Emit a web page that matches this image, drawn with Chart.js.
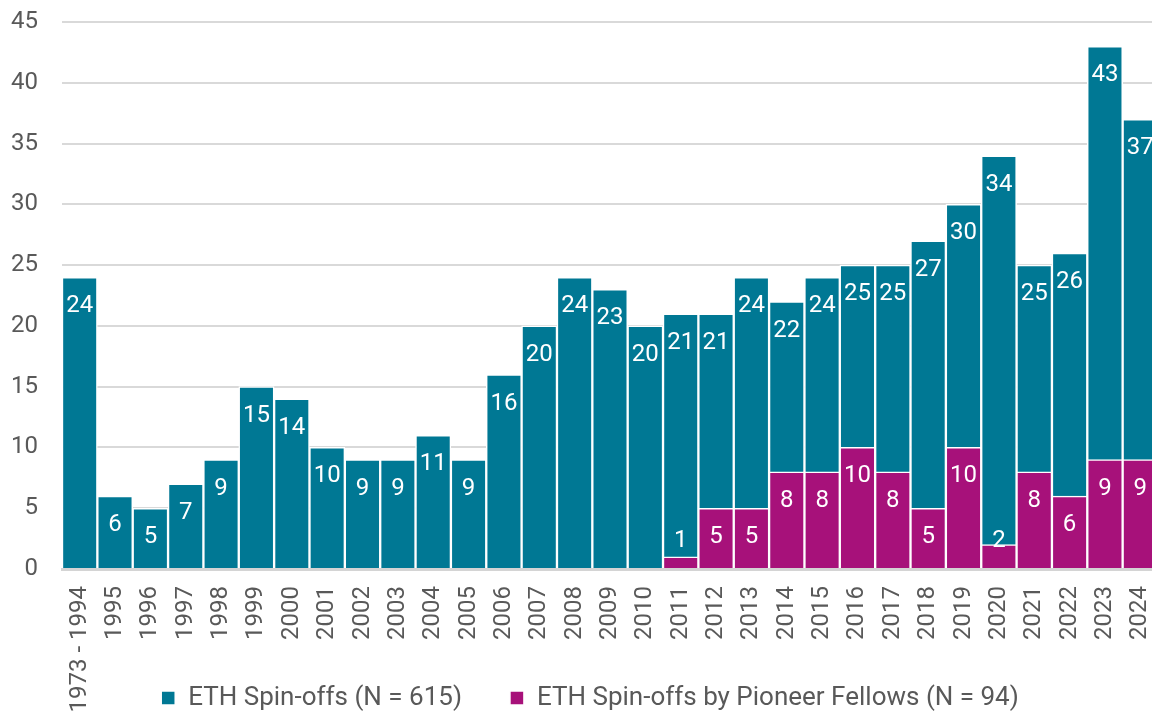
<!DOCTYPE html>
<html><head><meta charset="utf-8">
<script src="https://cdn.jsdelivr.net/npm/chart.js@4.4.1/dist/chart.umd.min.js"></script>
<style>html,body{margin:0;padding:0;background:#fff;overflow:hidden}</style>
</head><body>
<canvas id="c" width="1158" height="720"></canvas>
<script>
const categories = ['1973 - 1994','1995','1996','1997','1998','1999','2000','2001','2002','2003','2004','2005','2006','2007','2008','2009','2010','2011','2012','2013','2014','2015','2016','2017','2018','2019','2020','2021','2022','2023','2024'];
const ethSpinoffs = [24,6,5,7,9,15,14,10,9,9,11,9,16,20,24,23,20,21,21,24,22,24,25,25,27,30,34,25,26,43,37];
const pioneerSpinoffs = [null,null,null,null,null,null,null,null,null,null,null,null,null,null,null,null,null,1,5,5,8,8,10,8,5,10,2,8,6,9,9];
const seriesNames = ['ETH Spin-offs (N = 615)','ETH Spin-offs by Pioneer Fellows (N = 94)'];
const yMin = 0, yMax = 45, yStep = 5;

const FONT = 'Roboto';
const GREY = '#595959';
const LEG_PAD = 48;
const LEG_H = LEG_PAD + 35;

const barLabels = {
  id: 'barLabels',
  beforeDraw(chart) {
    Object.values(chart.scales).forEach(s => { s._computeLabelArea = () => undefined; });
  },
  afterDatasetsDraw(chart) {
    const ctx = chart.ctx;
    ctx.save();
    ctx.font = '24px ' + FONT;
    ctx.fillStyle = '#ffffff';
    ctx.textAlign = 'center';
    ctx.textBaseline = 'alphabetic';
    chart.data.datasets.forEach((ds, di) => {
      const meta = chart.getDatasetMeta(di);
      meta.data.forEach((el, i) => {
        const v = ds.data[i];
        if (v == null) return;
        const p = el.getProps(['x','y','base'], true);
        const by = Math.min(p.y + 35, p.base - 21);
        ctx.fillText(String(v), p.x, by);
      });
    });
    ctx.restore();
  }
};

const legendFix = {
  id: 'legendFix',
  afterInit(chart) {
    const lg = chart.legend;
    if (!lg) return;
    const orig = lg.fit.bind(lg);
    lg.fit = function() { orig(); this.height = LEG_H; };
  }
};

function noPad(scale) {
  scale.paddingLeft = 0; scale.paddingRight = 0; scale.paddingTop = 0; scale.paddingBottom = 0;
}

new Chart(document.getElementById('c'), {
  type: 'bar',
  data: {
    labels: categories,
    datasets: [
      { label: seriesNames[0], data: ethSpinoffs, backgroundColor: '#007894', borderColor: '#ffffff', borderWidth: 1.5, order: 1, barPercentage: 1, categoryPercentage: 1 },
      { label: seriesNames[1], data: pioneerSpinoffs, backgroundColor: '#A7117A', borderColor: '#ffffff', borderWidth: 1.5, order: 0, barPercentage: 1, categoryPercentage: 1 }
    ]
  },
  options: {
    responsive: false,
    animation: false,
    layout: { padding: { left: 22, top: 22, right: 0, bottom: 0 } },
    plugins: {
      tooltip: { enabled: false },
      legend: {
        position: 'bottom',
        labels: {
          font: { family: FONT, size: 26 },
          color: GREY,
          boxWidth: 14,
          boxHeight: 14,
          padding: LEG_PAD,
          sort: (a, b) => a.datasetIndex - b.datasetIndex
        }
      }
    },
    scales: {
      x: {
        stacked: true,
        grid: { display: false, drawTicks: false },
        border: { display: true, color: '#d4d4d4', width: 3 },
        ticks: { font: { family: FONT, size: 24 }, color: GREY, minRotation: 90, maxRotation: 90, autoSkip: false, padding: 17 },
        afterFit(scale) { scale.height = 151 - LEG_H; noPad(scale); }
      },
      y: {
        stacked: false,
        min: yMin, max: yMax,
        grid: { color: '#d9d9d9', lineWidth: 2, drawTicks: false },
        border: { display: false },
        ticks: { stepSize: yStep, font: { family: FONT, size: 24 }, color: GREY, padding: 24 },
        afterFit(scale) { scale.width = 40; noPad(scale); }
      }
    }
  },
  plugins: [barLabels, legendFix]
});
</script>
</body></html>
